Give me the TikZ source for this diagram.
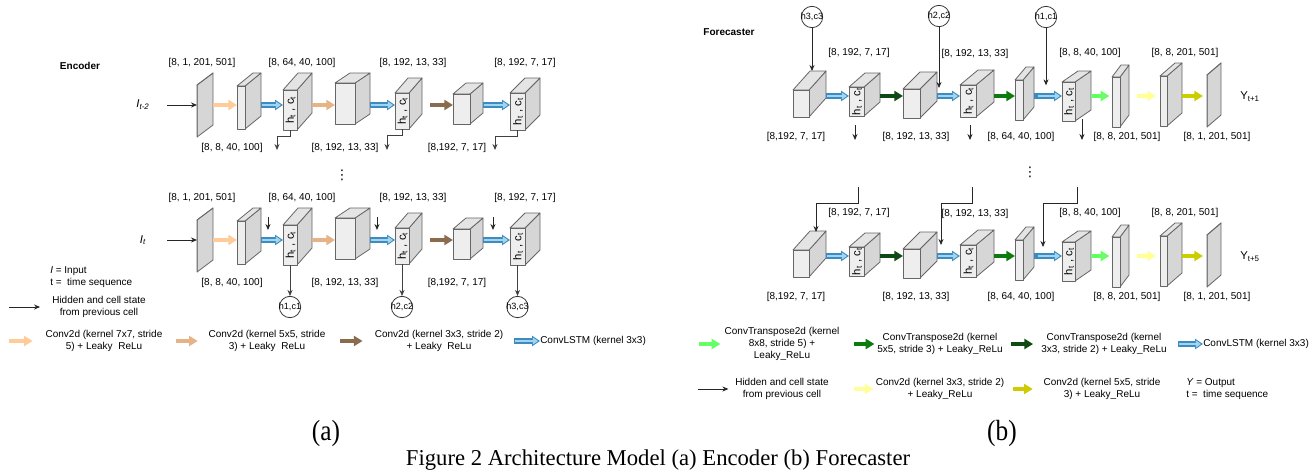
\documentclass[tikz,border=0pt]{standalone}
\usepackage{fontspec}
\setmainfont{Liberation Sans}
\newfontfamily\capfont{Liberation Serif}
\newfontfamily\dotfont{DejaVu Sans}
\usetikzlibrary{arrows.meta}
\definecolor{boxline}{HTML}{666666}
\definecolor{boxfront}{HTML}{EEEEEE}
\definecolor{boxside}{HTML}{D6D6D6}
\definecolor{boxtop}{HTML}{E4E4E4}
\definecolor{peach}{HTML}{FFCC99}
\definecolor{convtan}{HTML}{E5B386}
\definecolor{convbrown}{HTML}{8B6B4E}
\definecolor{lstmfill}{HTML}{A3D4EE}
\definecolor{lstmedge}{HTML}{3C8CC2}
\definecolor{ctlight}{HTML}{66FF66}
\definecolor{ctmid}{HTML}{0D7A0D}
\definecolor{ctdark}{HTML}{0F4A12}
\definecolor{cvpale}{HTML}{FFFF99}
\definecolor{cvolive}{HTML}{CCCC00}
% box seen in perspective: name, front lower left, width, height, depth x, depth y
\newcommand{\slab}[6]{%
  \node[inner sep=0pt, outer sep=0pt, anchor=south west,
    minimum width={(#3+#5)*0.75pt}, minimum height={(#4+#6)*0.75pt}] (#1) at #2 {};
  \filldraw[sideface] (#1.south west) ++(#3,0) -- ++(#5,-#6) -- ++(0,-#4) -- ++(-#5,#6) -- cycle;
  \filldraw[topface] (#1.south west) ++(0,-#4) -- ++(#5,-#6) -- ++(#3,0) -- ++(-#5,#6) -- cycle;
  \filldraw[frontface] (#1.south west) rectangle ++(#3,-#4);
  \coordinate (#1-fs) at ([shift={(#3/2,0)}]#1.south west);}
\newcommand{\cell}[7]{\slab{#1}{#2}{#3}{#4}{#5}{#6}%
  \node[rotate=90, inner sep=0pt, font=\fontsize{8.5}{10}\selectfont] (#1-t) at ([shift={(#3/2+0.5,-#4/2)}]#1.south west) {#7};}
\newcommand{\hcst}{h\textsubscript{t}\ ,\ c\textsubscript{t}}
\begin{document}
\begin{tikzpicture}[x=0.75pt, y=-0.75pt, >={Stealth[length=4.5pt,width=3.8pt]},
  font=\fontsize{7.5}{9}\selectfont,
  face/.style={draw=boxline, line width=0.6pt, line join=round},
  frontface/.style={face, fill=boxfront},
  sideface/.style={face, fill=boxside},
  topface/.style={face, fill=boxtop},
  lbl/.style={inner sep=0pt},
  legend/.style={align=center, inner sep=0pt},
  ttl/.style={inner sep=0pt, font=\fontsize{7.5}{9}\selectfont\bfseries},
  sym/.style={inner sep=0pt, font=\fontsize{8.5}{10}\selectfont},
  dots/.style={inner sep=0pt, font=\dotfont\fontsize{10}{12}\selectfont},
  hid/.style={->, line width=0.6pt, draw=black!85},
  conv/.style={line width=2.6pt, -{Triangle[length=6.5pt,width=7.5pt]}},
  lstm/.style={draw=lstmfill, line width=2.2pt, shorten <=0.8pt, shorten >=1.5pt,
    -{Triangle[length=3.8pt,width=5pt]},
    preaction={draw=lstmedge, line width=3.8pt, shorten <=0pt, shorten >=0pt,
      -{Triangle[length=6pt,width=7.6pt]}}},
  state/.style={circle, draw=black!80, line width=0.6pt, minimum size=16pt,
    inner sep=0pt, font=\fontsize{6.8}{8}\selectfont}]
\path[fill=white, use as bounding box] (0,0) rectangle (1315,472);

% encoder
\node[ttl] (enc) at (80,66) {Encoder};
\foreach \rw/\sh in {1/0,2/135}{
  \begin{scope}[shift={(0,\sh)}]
    \coordinate (e\rw ax) at (0,105);
    \coordinate (e\rw s) at (167,105);
    \slab{e\rw p1}{(197,137)}{0}{52}{16}{12}
    \slab{e\rw b2}{(237,129)}{8}{43}{16}{13}
    \cell{e\rw c3}{(283,130)}{14}{40}{15}{17}{\hcst}
    \slab{e\rw b4}{(335,124)}{20}{41}{15}{10}
    \cell{e\rw c5}{(395,129)}{14}{36}{13}{15}{\hcst}
    \slab{e\rw b6}{(453,124)}{17}{30}{13}{11}
    \cell{e\rw c7}{(510,130)}{15}{37}{15}{15}{\hcst}
    \draw[hid] (e\rw s) -- (e\rw p1.west |- e\rw ax);
    \draw[conv, peach] (e\rw p1.east |- e\rw ax) -- (e\rw b2.west |- e\rw ax);
    \draw[lstm] (e\rw b2.east |- e\rw ax) -- (e\rw c3.west |- e\rw ax);
    \draw[conv, convtan] (e\rw c3.east |- e\rw ax) -- (e\rw b4.west |- e\rw ax);
    \draw[lstm] (e\rw b4.east |- e\rw ax) -- (e\rw c5.west |- e\rw ax);
    \draw[conv, convbrown, shorten <=6pt] (e\rw c5.east |- e\rw ax) -- (e\rw b6.west |- e\rw ax);
    \draw[lstm] (e\rw b6.east |- e\rw ax) -- (e\rw c7.west |- e\rw ax);
    \node[lbl] (e\rw t1) at (202,63) {[8, 1, 201, 501]};
    \node[lbl] (e\rw t2) at (302,63) {[8, 64, 40, 100]};
    \node[lbl] (e\rw t3) at (413,63) {[8, 192, 13, 33]};
    \node[lbl] (e\rw t4) at (525,63) {[8, 192, 7, 17]};
    \node[lbl] (e\rw u1) at (232,148) {[8, 8, 40, 100]};
    \node[lbl] (e\rw u2) at (345,148) {[8, 192, 13, 33]};
    \node[lbl] (e\rw u3) at (457,148) {[8,192, 7, 17]};
  \end{scope}
}
\node[sym] (e1in) at (143,105) {\textit{I}\textsubscript{\textit{t-2}}};
\node[sym] (e2in) at (143,240) {\textit{I}\textsubscript{\textit{t}}};
\foreach \c/\x in {3/277,5/387,7/495}{
  \coordinate (e1o\c) at (\x,150);
  \draw[hid, draw=black!75] (e1c\c-fs) -- ++(0,6) -| (e1o\c);
}
\node[dots] (edots) at (342,175) {⋮};
\foreach \c/\x in {3/268,5/377,7/493}{
  \coordinate (e2h\c) at (\x,217);
  \draw[hid, shorten >=7.5pt] (e2h\c) -- (e2h\c |- e2ax);
}
\node[state] (eh1) at (290,307) {\makebox[0pt]{h1,c1}};
\node[state] (eh2) at (402,307) {\makebox[0pt]{h2,c2}};
\node[state] (eh3) at (517.5,307) {\makebox[0pt]{h3,c3}};
\draw[hid, draw=black!75] (e2c3-fs) -- (eh1);
\draw[hid, draw=black!75] (e2c5-fs) -- (eh2);
\draw[hid, draw=black!75] (e2c7-fs) -- (eh3);

% encoder legend
\node[lbl, align=left, anchor=west] (lgI) at (50,277) {\textit{I} = Input\\t =\ \ time sequence};
\coordinate (lgH) at (9,307);
\node[legend] (lgHt) at (99,307) {Hidden and cell state\\from previous cell};
\draw[hid, shorten >=9pt] (lgH) -- (lgHt.west);
\coordinate (lgA) at (9,341);
\node[legend] (lgAt) at (104,341) {Conv2d (kernel 7x7, stride\\5) + Leaky\ \ ReLu};
\draw[conv, peach, shorten >=9.5pt] (lgA) -- (lgAt.west);
\coordinate (lgB) at (176,341);
\node[legend] (lgBt) at (267,341) {Conv2d (kernel 5x5, stride\\3) + Leaky\ \ ReLu};
\draw[conv, convtan, shorten >=8pt] (lgB) -- (lgBt.west);
\coordinate (lgC) at (340,341);
\node[legend] (lgCt) at (439,341) {Conv2d (kernel 3x3, stride 2)\\+ Leaky\ \ ReLu};
\draw[conv, convbrown, shorten >=9pt] (lgC) -- (lgCt.west);
\coordinate (lgD) at (514,341);
\node[lbl, anchor=west] (lgDt) at (540,341) {ConvLSTM (kernel 3x3)};
\draw[lstm] (lgD) -- (lgDt.west);

% forecaster
\node[ttl] (fc) at (729,32) {Forecaster};
\foreach \rw/\sh in {1/0,2/160}{
  \begin{scope}[shift={(0,\sh)}]
    \coordinate (f\rw ax) at (0,96);
    \slab{f\rw b1}{(793,117)}{16}{27}{17}{19}
    \cell{f\rw c2}{(849,116)}{15}{29}{16}{14}{\hcst}
    \slab{f\rw b3}{(903,118)}{17}{29}{17}{17}
    \cell{f\rw c4}{(960,117)}{16}{32}{18}{15}{\hcst}
    \slab{f\rw b5}{(1015,120)}{8}{40}{11}{13}
    \cell{f\rw c6}{(1062,121)}{13}{39}{16}{11}{\hcst}
    \slab{f\rw b7}{(1112,127)}{8}{50}{9}{12}
    \slab{f\rw b8}{(1160,126)}{7}{50}{15}{13}
    \slab{f\rw p9}{(1207,127)}{0}{52}{14}{12}
    \draw[lstm] (f\rw b1.east |- f\rw ax) -- (f\rw c2.west |- f\rw ax);
    \draw[conv, ctdark] (f\rw c2.east |- f\rw ax) -- (f\rw b3.west |- f\rw ax);
    \draw[lstm] (f\rw b3.east |- f\rw ax) -- (f\rw c4.west |- f\rw ax);
    \draw[conv, ctmid] (f\rw c4.east |- f\rw ax) -- (f\rw b5.west |- f\rw ax);
    \draw[lstm, shorten <=3pt] (f\rw b5.east |- f\rw ax) -- (f\rw c6.west |- f\rw ax);
    \draw[conv, ctlight, shorten >=2pt] (f\rw c6.east |- f\rw ax) -- (f\rw b7.west |- f\rw ax);
    \draw[conv, cvpale, shorten <=6pt, shorten >=3pt] (f\rw b7.east |- f\rw ax) -- (f\rw b8.west |- f\rw ax);
    \draw[conv, cvolive, shorten >=3pt] (f\rw b8.east |- f\rw ax) -- (f\rw p9.west |- f\rw ax);
    \node[lbl] (f\rw t1) at (859,53) {[8, 192, 7, 17]};
    \node[lbl] (f\rw t2) at (975,54) {[8, 192, 13, 33]};
    \node[lbl] (f\rw t3) at (1090,53) {[8, 8, 40, 100]};
    \node[lbl] (f\rw t4) at (1185,53) {[8, 8, 201, 501]};
    \node[lbl] (f\rw u1) at (796,137) {[8,192, 7, 17]};
    \node[lbl] (f\rw u2) at (916,137) {[8, 192, 13, 33]};
    \node[lbl] (f\rw u3) at (1021,137) {[8, 64, 40, 100]};
    \node[lbl] (f\rw u4) at (1127,137) {[8, 8, 201, 501]};
    \node[lbl] (f\rw u5) at (1217,137) {[8, 1, 201, 501]};
  \end{scope}
}
\node[state] (fh3) at (812,17) {\makebox[0pt]{h3,c3}};
\node[state] (fh2) at (939,16) {\makebox[0pt]{h2,c2}};
\node[state] (fh1) at (1046,17) {\makebox[0pt]{h1,c1}};
\draw[hid] (fh3) -- (fh3 |- f1b1.north);
\draw[hid, shorten >=6pt] (fh2) -- (fh2 |- f1ax);
\draw[hid, shorten >=8pt] (fh1) -- (fh1 |- f1ax);
\foreach \c/\x/\y in {2/855/125,4/970/125,6/1082/119}{
  \coordinate (f1u\c) at (\x,\y);
  \coordinate (f1o\c) at (\x,140);
  \draw[hid] (f1u\c) -- (f1o\c);
}
\node[dots] (fdots) at (1030,172) {⋮};
\foreach \c/\xa/\xb/\yb in {1/858/816/232,3/972/941/245,5/1077/1043/247}{
  \coordinate (f2h\c) at (\xa,187);
  \coordinate (f2e\c) at (\xb,\yb);
  \draw[hid] (f2h\c) -- ++(0,16) -| (f2e\c);
}
\node[sym, anchor=west] (fy1) at (1240,97) {Y\textsubscript{t+1}};
\node[sym, anchor=west] (fy5) at (1240,257) {Y\textsubscript{t+5}};

% forecaster legend
\coordinate (lgF1) at (699,344);
\node[legend] (lgF1t) at (782,344) {ConvTranspose2d (kernel\\8x8, stride 5) +\\Leaky\_ReLu};
\draw[conv, ctlight, shorten >=3pt] (lgF1) -- (lgF1t.west);
\coordinate (lgF2) at (854,344);
\node[legend] (lgF2t) at (940,344) {ConvTranspose2d (kernel\\5x5, stride 3) + Leaky\_ReLu};
\draw[conv, ctmid, shorten >=2pt] (lgF2) -- (lgF2t.west);
\coordinate (lgF3) at (1011,344);
\node[legend] (lgF3t) at (1104,344) {ConvTranspose2d (kernel\\3x3, stride 2) + Leaky\_ReLu};
\draw[conv, ctdark, shorten >=6pt] (lgF3) -- (lgF3t.west);
\coordinate (lgF4) at (1178,344);
\node[lbl, anchor=west] (lgF4t) at (1203,344) {ConvLSTM (kernel 3x3)};
\draw[lstm] (lgF4) -- (lgF4t.west);
\coordinate (lgF5) at (698,389);
\node[legend] (lgF5t) at (782,389) {Hidden and cell state\\from previous cell};
\draw[hid, shorten >=5pt] (lgF5) -- (lgF5t.west);
\coordinate (lgF6) at (854,389);
\node[legend] (lgF6t) at (940,389) {Conv2d (kernel 3x3, stride 2)\\+ Leaky\_ReLu};
\draw[conv, cvpale, shorten >=1.5pt] (lgF6) -- (lgF6t.west);
\coordinate (lgF7) at (1013,389);
\node[legend] (lgF7t) at (1102,389) {Conv2d (kernel 5x5, stride\\3) + Leaky\_ReLu};
\draw[conv, cvolive, shorten >=8pt] (lgF7) -- (lgF7t.west);
\node[lbl, align=left, anchor=west] (lgY) at (1186,389) {\textit{Y} = Output\\t =\ \ time sequence};

% captions
\node[inner sep=0pt, yscale=1.15, font=\capfont\fontsize{19}{22}\selectfont] (capa) at (326,433) {(a)};
\node[inner sep=0pt, yscale=1.15, font=\capfont\fontsize{19}{22}\selectfont] (capb) at (1002,433) {(b)};
\node[inner sep=0pt, font=\capfont\fontsize{17}{20}\selectfont] (cap) at (658,460) {Figure 2 Architecture Model (a) Encoder (b) Forecaster};
\end{tikzpicture}
\end{document}
